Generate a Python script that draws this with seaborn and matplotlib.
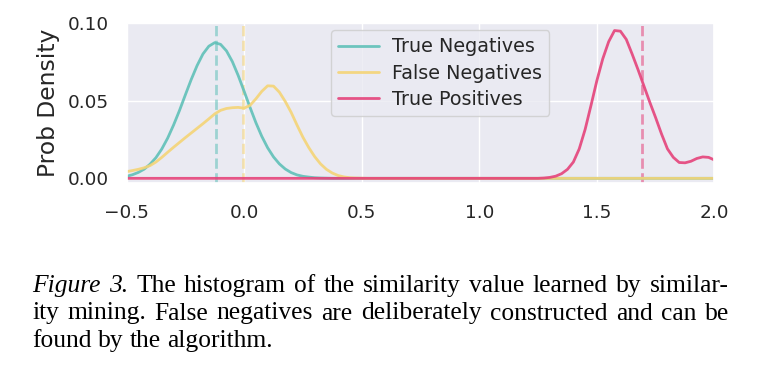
import numpy as np
import pandas as pd
import matplotlib
matplotlib.use("Agg")
import matplotlib.pyplot as plt
import seaborn as sns

# similarity values (sampling grid of the density curves, step 0.025)
sim = np.round(np.linspace(-0.5, 2.0, 101), 3)

true_neg = [0.0013, 0.0023, 0.0038, 0.0059, 0.0091, 0.0133, 0.0189, 0.0259, 0.0343, 0.0436,
            0.0537, 0.0636, 0.0726, 0.0801, 0.0851, 0.0874, 0.0863, 0.0821, 0.0752, 0.0662,
            0.0561, 0.0458, 0.0359, 0.0271, 0.0197, 0.0138, 0.0093, 0.0060, 0.0037, 0.0022,
            0.0013, 0.0008, 0.0004, 0.0002, 0.0001] + [0.0] * 66
false_neg = [0.0043, 0.0050, 0.0058, 0.0068, 0.0082, 0.0105, 0.0135, 0.0168, 0.0200, 0.0231,
             0.0262, 0.0292, 0.0322, 0.0352, 0.0383, 0.0415, 0.0438, 0.0450, 0.0455, 0.0457,
             0.0452, 0.0470, 0.0512, 0.0560, 0.0596, 0.0594, 0.0555, 0.0495, 0.0425, 0.0343,
             0.0265, 0.0198, 0.0140, 0.0093, 0.0058, 0.0034, 0.0018, 0.0009, 0.0004, 0.0002,
             0.0001] + [0.0] * 60
true_pos = [0.0] * 70 + [
            0.0, 0.0002, 0.0006, 0.0014, 0.0030, 0.0058, 0.0105, 0.0190, 0.0315, 0.0470,
            0.0630, 0.0770, 0.0880, 0.0952, 0.0948, 0.0895, 0.0800, 0.0700, 0.0595, 0.0490,
            0.0390, 0.0285, 0.0190, 0.0135, 0.0102, 0.0100, 0.0110, 0.0128, 0.0138, 0.0135,
            0.0118]

groups = ["True Negatives", "False Negatives", "True Positives"]
means = [-0.12, -0.005, 1.69]
colors = ["#5fc0b8", "#f5d476", "#e5437a"]

caption = [
    [("Figure", "italic"), ("3.", "italic"), ("The", "normal"), ("histogram", "normal"), ("of", "normal"),
     ("the", "normal"), ("similarity", "normal"), ("value", "normal"), ("learned", "normal"),
     ("by", "normal"), ("similar-", "normal")],
    [(w, "normal") for w in "ity mining. False negatives are deliberately constructed and can be".split()],
    [(w, "normal") for w in "found by the algorithm.".split()],
]

df = pd.DataFrame({
    "sim": np.concatenate([sim, sim, sim]),
    "density": true_neg + false_neg + true_pos,
    "group": np.repeat(groups, len(sim)),
})

sns.set_theme(style="darkgrid")
plt.rcParams["font.family"] = ["DejaVu Sans"]

fig = plt.figure(figsize=(7.7, 3.83), dpi=100)
ax = fig.add_axes([0.1643, 0.5214, 0.7636, 0.4183])

sns.lineplot(data=df, x="sim", y="density", hue="group", hue_order=groups,
             palette=dict(zip(groups, colors)), linewidth=2.0, alpha=0.9, ax=ax)
for m, c in zip(means, colors):
    ax.axvline(m, color=c, ls="--", lw=2.0, alpha=0.55, zorder=1.5)

ax.set_xlim(-0.5, 2.0)
ax.set_ylim(-0.0032, 0.1)
ax.set_xticks([-0.5, 0.0, 0.5, 1.0, 1.5, 2.0])
ax.set_yticks([0.0, 0.05, 0.10])
ax.set_yticklabels(["0.00", "0.05", "0.10"])
ax.tick_params(axis="both", labelsize=13.3, length=0, colors="#262626")
ax.tick_params(axis="y", pad=13)
ax.tick_params(axis="x", pad=15)
ax.set_xlabel("")
ax.set_ylabel("Prob Density", fontsize=16.8, color="#262626")
ax.yaxis.set_label_coords(-0.113, 0.5)

leg = ax.legend(loc="upper left", bbox_to_anchor=(0.348, 0.957), borderaxespad=0,
                fontsize=13.8, handlelength=2.1, handletextpad=0.7, labelspacing=0.38,
                borderpad=0.38)
for t in leg.get_texts():
    t.set_color("#262626")

# caption below the chart, justified like the paper text
serif = ["Liberation Serif", "DejaVu Serif"]
cap_size = 18.4
x0, x1 = 32 / 770, 729 / 770
baselines = [1 - 292 / 383, 1 - 319.5 / 383, 1 - 347 / 383]
fig.canvas.draw()
rend = fig.canvas.get_renderer()
space = 0.25 * cap_size * fig.dpi / 72 / fig.bbox.width
for k, (words, yb) in enumerate(zip(caption, baselines)):
    objs = [fig.text(0, yb, w, fontsize=cap_size, family=serif, style=st, va="baseline",
                     color="black") for w, st in words]
    widths = [o.get_window_extent(rend).width / fig.bbox.width for o in objs]
    if k < len(caption) - 1:
        gap = (x1 - x0 - sum(widths)) / (len(objs) - 1)
    else:
        gap = space
    xpos = x0
    for o, w in zip(objs, widths):
        o.set_x(xpos)
        xpos += w + gap

fig.savefig("out.png", dpi=100, facecolor="white")
